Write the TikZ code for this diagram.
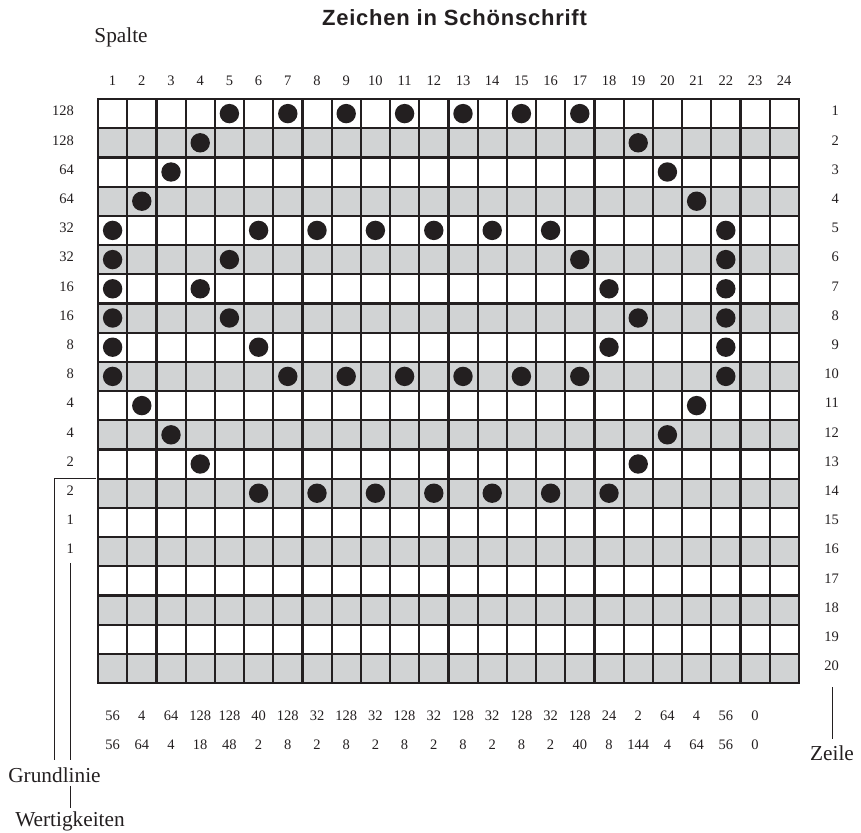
\documentclass[tikz,border=0pt]{standalone}
\usepackage{fontspec}
\setmainfont{Liberation Serif}
\newfontfamily\titlefont[LetterSpace=3.5]{Liberation Sans}
\definecolor{rowgray}{HTML}{D1D3D4}
\definecolor{inkblack}{HTML}{231F20}

\begin{document}
\begin{tikzpicture}[x=1pt,y=-1pt,
    gridline/.style={line width=2.2pt, draw=inkblack},
    numlabel/.style={font=\fontsize{14.5}{16}\selectfont, inner sep=1pt, text=inkblack},
    wordlabel/.style={font=\fontsize{21.3}{24}\selectfont, text=inkblack},
    leader/.style={line width=0.8pt, draw=inkblack}]

        \useasboundingbox (0,0) rectangle (861,832);

        % Shade every second row
        \foreach \r in {2,4,...,20}
            \fill[rowgray] (98,{99+(\r-1)*29.2}) rectangle (798.8,{99+\r*29.2});

        % Draw grid
        \foreach \i in {1,...,23}
            \draw[gridline] ({98+\i*29.2},99) -- ({98+\i*29.2},683);
        \foreach \j in {1,...,19}
            \draw[gridline] (98,{99+\j*29.2}) -- (798.8,{99+\j*29.2});
        \draw[gridline] (98,99) rectangle (798.8,683);

        % Draw dots (row/columns)
        \foreach \r/\cols in {1/{5,7,9,11,13,15,17}, 2/{4,19}, 3/{3,20}, 4/{2,21},
                5/{1,6,8,10,12,14,16,22}, 6/{1,5,17,22}, 7/{1,4,18,22}, 8/{1,5,19,22},
                9/{1,6,18,22}, 10/{1,7,9,11,13,15,17,22}, 11/{2,21}, 12/{3,20},
                13/{4,19}, 14/{6,8,10,12,14,16,18}}
            \foreach \c in \cols
                \fill[inkblack] ({98+(\c-0.5)*29.2},{99+(\r-0.5)*29.2}) circle (9.7);

        % Column numbers
        \foreach \c in {1,...,24}
            \node[numlabel] (c\c) at ({98+(\c-0.5)*29.2},81) {\c};

        % Weights on the left
        \foreach \w [count=\r] in {128,128,64,64,32,32,16,16,8,8,4,4,2,2,1,1}
            \node[numlabel, anchor=east] (w\r) at (75,{99+(\r-0.5)*29.2-2.5}) {\w};

        % Row numbers on the right
        \foreach \r in {1,...,20}
            \node[numlabel, anchor=east] (z\r) at (840,{99+(\r-0.5)*29.2-2.5}) {\r};

        % Byte values below the grid
        \foreach \v [count=\c] in {56,4,64,128,128,40,128,32,128,32,128,32,128,32,128,32,128,24,2,64,4,56,0}
            \node[numlabel] (a\c) at ({98+(\c-0.5)*29.2},716) {\v};
        \foreach \v [count=\c] in {56,64,4,18,48,2,8,2,8,2,8,2,8,2,8,2,40,8,144,4,64,56,0}
            \node[numlabel] (b\c) at ({98+(\c-0.5)*29.2},745) {\v};

        % Titles and labels
        \node[anchor=base, text=inkblack, font=\titlefont\bfseries\fontsize{22}{25}\selectfont] (title) at (454.5,26) {Zeichen in Schönschrift};
        \node[wordlabel, anchor=base west] (spalte) at (90.9,43) {Spalte};
        \node[wordlabel, anchor=base] (grund) at (54.5,782) {Grundlinie};
        \node[wordlabel, anchor=base] (wert) at (70,826) {Wertigkeiten};
        \node[wordlabel, anchor=base] (zeile) at (832,760) {Zeile};

        % Leader lines
        \coordinate (base) at (96,478.6);
        \draw[leader, shorten >=3.5pt] (base) -| (grund.north);
        \draw[leader, shorten <=8pt, shorten >=3.5pt] (wert.north |- w16.south) -- (wert.north |- grund.north);
        \draw[leader] (wert.north |- grund.south) -- (wert.north);
        \draw[leader, shorten <=15pt, shorten >=2.5pt] (zeile.north |- z20.south) -- (zeile.north);

    \end{tikzpicture}
\end{document}
